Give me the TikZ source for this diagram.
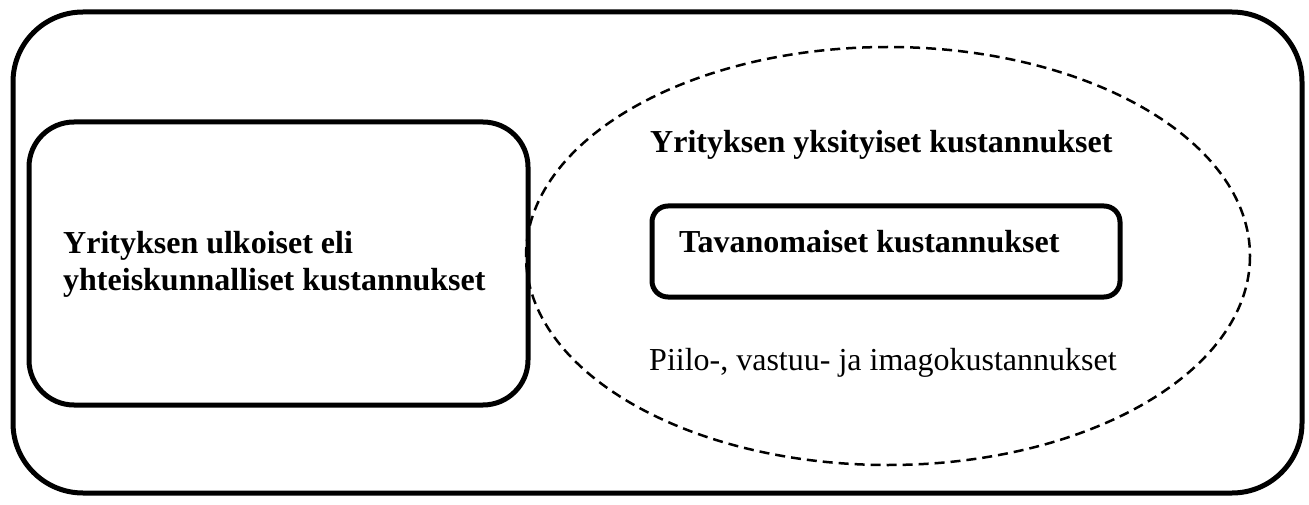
\documentclass[tikz,border=0pt]{standalone}
\usepackage{fontspec}
\setmainfont{Liberation Serif}
\begin{document}
\begin{tikzpicture}[x=1pt,y=-1pt,
  frame/.style={draw=black,line width=5pt},
  costs/.style={draw=black,line width=2.5pt,dash pattern=on 10pt off 6pt},
  boldlabel/.style={font=\fontsize{32}{38}\selectfont\bfseries,anchor=base west,inner sep=0pt},
  plainlabel/.style={font=\fontsize{32}{38}\selectfont,anchor=base west,inner sep=0pt}]
  \useasboundingbox (0,0) rectangle (1309,505);
  % outer frame
  \draw[frame,rounded corners=70pt] (13,12) rectangle (1302,493);
  % external costs box
  \draw[frame,rounded corners=45pt] (29,122) rectangle (528,405);
  % private costs ellipse
  \draw[costs] (888,256) ellipse [x radius=362, y radius=209];
  % conventional costs box
  \draw[frame,rounded corners=16pt] (652,206) rectangle (1120,297);
  % labels
  \node[boldlabel] (ext1) at (63,254) {Yrityksen ulkoiset eli};
  \node[boldlabel] (ext2) at (63,290) {yhteiskunnalliset kustannukset};
  \node[boldlabel] (priv) at (650,153) {Yrityksen yksityiset kustannukset};
  \node[boldlabel] (conv) at (679,252) {Tavanomaiset kustannukset};
  \node[plainlabel] (hidden) at (649,370) {Piilo-, vastuu- ja imagokustannukset};
\end{tikzpicture}
\end{document}
